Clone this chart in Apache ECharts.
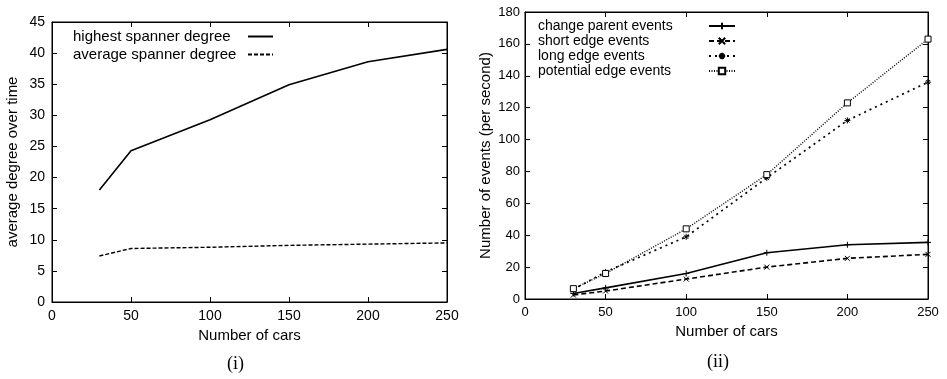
<!DOCTYPE html>
<html>
<head>
<meta charset="UTF-8">
<title>spanner degree / events</title>
<script src="https://cdn.jsdelivr.net/npm/echarts@6/dist/echarts.min.js"></script>
<style>
html,body{margin:0;padding:0;background:#fff;}
#charts{width:947px;height:379px;}
</style>
</head>
<body>
<div id="charts"></div>
<script type="text/javascript">
// x values (number of cars)
var cars = [30, 50, 100, 150, 200, 250];

// left plot (i)
var highestDeg = [18.0, 24.3, 29.3, 34.9, 38.6, 40.6];
var averageDeg = [7.4, 8.6, 8.8, 9.1, 9.3, 9.5];

// right plot (ii)
var changeParent = [3.5, 7, 16, 29, 34, 35.5];
var shortEdge = [2.5, 5, 12.5, 20, 25.5, 28];
var longEdge = [6, 17, 39, 76, 112, 136];
var potentialEdge = [6.5, 16, 44, 78, 123, 163];

var leftNames = ['highest spanner degree', 'average spanner degree'];
var rightNames = ['change parent events', 'short edge events', 'long edge events', 'potential edge events'];

function pairs(ys){
	var out = [];
	for (var i = 0; i < cars.length; i++) out.push([cars[i], ys[i]]);
	return out;
}

var font = 'Liberation Sans, Arial, Helvetica, sans-serif';
var black = '#000';

function xAx(grid, top, fs){
	return {
		type: 'value', gridIndex: grid, min: 0, max: 250, interval: 50,
		position: top ? 'top' : 'bottom',
		name: top ? '' : 'Number of cars', nameLocation: 'middle', nameGap: grid == 0 ? 24 : 22,
		nameTextStyle: {color: black, fontSize: 15, fontFamily: font},
		axisLine: {show: true, onZero: false, lineStyle: {color: black, width: 1}},
		axisTick: {show: true, inside: true, length: 5, lineStyle: {color: black}},
		axisLabel: {show: !top, color: black, fontSize: fs, fontFamily: font, margin: 7},
		splitLine: {show: false}
	};
}
function yAx(grid, right, max, step, name, fs, gap){
	return {
		type: 'value', gridIndex: grid, min: 0, max: max, interval: step,
		position: right ? 'right' : 'left',
		name: right ? '' : name, nameLocation: 'middle', nameGap: gap,
		nameTextStyle: {color: black, fontSize: 15, fontFamily: font},
		axisLine: {show: true, onZero: false, lineStyle: {color: black, width: 1}},
		axisTick: {show: true, inside: true, length: 5, lineStyle: {color: black}},
		axisLabel: {show: !right, color: black, fontSize: fs, fontFamily: font, margin: grid == 0 ? 7 : 5},
		splitLine: {show: false}
	};
}

var plusPath = 'path://M0,5L10,5M5,0L5,10';
var crossPath = 'path://M0,0L10,10M10,0L0,10';
var starPath = 'path://M0,5L10,5M5,0L5,10M1.5,1.5L8.5,8.5M8.5,1.5L1.5,8.5';

var mychart = echarts.init(document.getElementById('charts'), null, {renderer: 'canvas'});
var option = {
	backgroundColor: '#fff',
	animation: false,
	textStyle: {fontFamily: font, color: black},
	title: [
		{text: '(i)', left: 222, top: 350, textStyle: {fontFamily: 'Liberation Serif, Times New Roman, serif', fontWeight: 'normal', fontSize: 18, color: black}},
		{text: '(ii)', left: 702, top: 348, textStyle: {fontFamily: 'Liberation Serif, Times New Roman, serif', fontWeight: 'normal', fontSize: 18, color: black}}
	],
	grid: [
		{left: 52, top: 22, width: 395, height: 280, show: true, borderColor: black, borderWidth: 1, backgroundColor: 'transparent'},
		{left: 525, top: 12, width: 403, height: 287, show: true, borderColor: black, borderWidth: 1, backgroundColor: 'transparent'}
	],
	xAxis: [xAx(0, false, 14), xAx(0, true, 14), xAx(1, false, 13), xAx(1, true, 13)],
	yAxis: [
		yAx(0, false, 45, 5, 'average degree over time', 14, 32),
		yAx(0, true, 45, 5, '', 14, 32),
		yAx(1, false, 180, 20, 'Number of events (per second)', 13, 32),
		yAx(1, true, 180, 20, '', 13, 32)
	],
	legend: [
		{
			data: leftNames, orient: 'vertical', align: 'right', left: 73, top: 29, padding: 0,
			itemWidth: 25, itemHeight: 8, itemGap: 3,
			itemStyle: {opacity: 0},
			formatter: '{a|{name}}',
			textStyle: {fontSize: 15, fontFamily: font, color: black, lineHeight: 15,
				rich: {a: {width: 170, align: 'left', fontSize: 15, fontFamily: font, color: black}}}
		},
		{
			data: rightNames, orient: 'vertical', align: 'right', left: 538, top: 19, padding: 0,
			itemWidth: 26, itemHeight: 8, itemGap: 1,
			formatter: '{a|{name}}',
			textStyle: {fontSize: 14, fontFamily: font, color: black, lineHeight: 14,
				rich: {a: {width: 166, align: 'left', fontSize: 14, fontFamily: font, color: black}}}
		}
	],
	series: [
		{
			name: leftNames[0], type: 'line', xAxisIndex: 0, yAxisIndex: 0,
			data: pairs(highestDeg), showSymbol: false, symbol: 'none',
			lineStyle: {color: black, width: 1.6, type: 'solid'}, itemStyle: {color: black}
		},
		{
			name: leftNames[1], type: 'line', xAxisIndex: 0, yAxisIndex: 0,
			data: pairs(averageDeg), showSymbol: false, symbol: 'none',
			lineStyle: {color: black, width: 1.4, type: [4, 2]}, itemStyle: {color: black}
		},
		{
			name: rightNames[0], type: 'line', xAxisIndex: 2, yAxisIndex: 2,
			data: pairs(changeParent), symbol: plusPath, symbolSize: 6,
			lineStyle: {color: black, width: 1.6, type: 'solid'},
			itemStyle: {color: 'none', borderColor: black, borderWidth: 1}
		},
		{
			name: rightNames[1], type: 'line', xAxisIndex: 2, yAxisIndex: 2,
			data: pairs(shortEdge), symbol: crossPath, symbolSize: 5,
			lineStyle: {color: black, width: 1.6, type: [5, 3]},
			itemStyle: {color: 'none', borderColor: black, borderWidth: 1}
		},
		{
			name: rightNames[2], type: 'line', xAxisIndex: 2, yAxisIndex: 2,
			data: pairs(longEdge), symbol: starPath, symbolSize: 6,
			lineStyle: {color: black, width: 1.7, type: [2, 4]},
			itemStyle: {color: 'none', borderColor: black, borderWidth: 1}
		},
		{
			name: rightNames[3], type: 'line', xAxisIndex: 2, yAxisIndex: 2,
			data: pairs(potentialEdge), symbol: 'rect', symbolSize: 6,
			lineStyle: {color: black, width: 1.4, type: [1, 1.5]},
			itemStyle: {color: '#fff', borderColor: black, borderWidth: 1}
		}
	]
};
mychart.setOption(option);
</script>
</body>
</html>
